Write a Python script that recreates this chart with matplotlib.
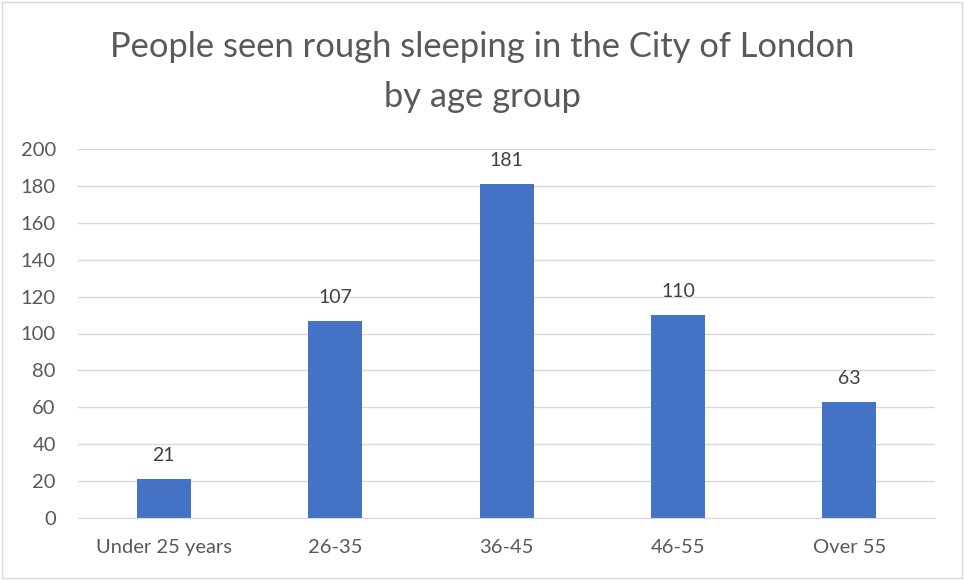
import matplotlib.pyplot as plt
from matplotlib.patches import Rectangle

# Data
age_groups = ['Under 25 years', '26-35', '36-45', '46-55', 'Over 55']
people = [21, 107, 181, 110, 63]
y_ticks = list(range(0, 201, 20))

plt.rcParams['font.family'] = ['Lato', 'DejaVu Sans']

fig = plt.figure(figsize=(9.64, 5.8), dpi=100)
ax = fig.add_axes([0.081, 0.107, 0.889, 0.636])

x = range(len(age_groups))
bars = ax.bar(x, people, width=0.315, color='#4472C4', zorder=3)

for xi, v in zip(x, people):
    ax.text(xi, v + 8, str(v), ha='center', va='bottom', fontsize=14, color='#404040')

ax.set_xlim(-0.5, len(age_groups) - 0.5)
ax.set_ylim(0, 200)
ax.set_yticks(y_ticks)
ax.set_xticks(list(x))
ax.set_xticklabels(age_groups)
ax.tick_params(axis='both', length=0, labelsize=14.5, labelcolor='#595959')
ax.tick_params(axis='y', pad=16)
ax.tick_params(axis='x', pad=15)
ax.grid(axis='y', color='#D9D9D9', linewidth=1, zorder=0)
for side in ['top', 'right', 'left']:
    ax.spines[side].set_visible(False)
ax.spines['bottom'].set_color('#D9D9D9')
ax.spines['bottom'].set_zorder(4)

fig.text(0.5, 0.876, 'People seen rough sleeping in the City of London\nby age group',
         ha='center', va='center', fontsize=24.8, color='#595959', linespacing=1.7)

fig.patches.append(Rectangle((0.002, 0.003), 0.996, 0.994, transform=fig.transFigure,
                             fill=False, edgecolor='#D9D9D9', linewidth=1))

fig.savefig('out.png', dpi=100)
